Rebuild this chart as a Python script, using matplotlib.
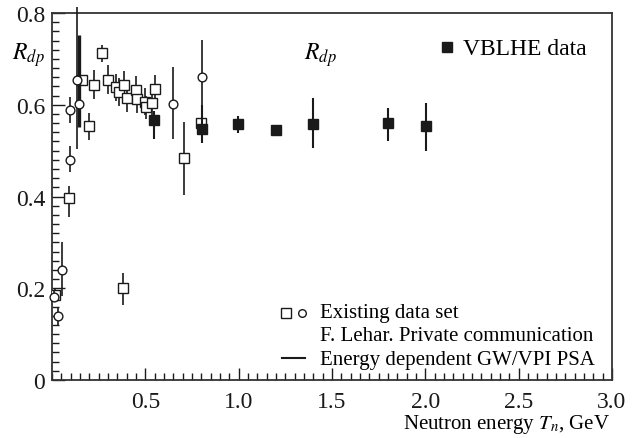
import matplotlib
matplotlib.use("Agg")
import matplotlib.pyplot as plt
from matplotlib.ticker import MultipleLocator

plt.rcParams['font.family'] = ['Liberation Serif', 'DejaVu Serif']
plt.rcParams['mathtext.fontset'] = 'stix'

# existing data set, open squares (T_n GeV, R_dp, error down, error up)
sq_x = [0.016, 0.093, 0.163, 0.197, 0.223, 0.270, 0.302, 0.343, 0.357, 0.386,
        0.404, 0.448, 0.458, 0.496, 0.503, 0.535, 0.553, 0.382, 0.709, 0.797]
sq_y = [0.185, 0.397, 0.654, 0.554, 0.644, 0.712, 0.654, 0.638, 0.628, 0.643,
        0.615, 0.632, 0.612, 0.607, 0.595, 0.604, 0.634, 0.200, 0.484, 0.561]
sq_lo = [0.015, 0.042, 0.0, 0.030, 0.031, 0.019, 0.031, 0.030, 0.030, 0.030,
         0.030, 0.030, 0.030, 0.030, 0.025, 0.030, 0.030, 0.037, 0.080, 0.0]
sq_hi = [0.015, 0.026, 0.0, 0.028, 0.031, 0.019, 0.032, 0.030, 0.030, 0.030,
         0.030, 0.030, 0.030, 0.030, 0.025, 0.030, 0.030, 0.033, 0.079, 0.0]

# existing data set, open circles
ci_x = [0.012, 0.030, 0.052, 0.096, 0.096, 0.132, 0.647, 0.804]
ci_y = [0.181, 0.140, 0.240, 0.479, 0.588, 0.654, 0.601, 0.660]
ci_lo = [0.012, 0.022, 0.056, 0.026, 0.028, 0.151, 0.076, 0.142]
ci_hi = [0.012, 0.019, 0.060, 0.031, 0.028, 0.160, 0.082, 0.081]

# circle with the thick error line
ci2_x = [0.145]
ci2_y = [0.602]
ci2_lo = [0.051]
ci2_hi = [0.150]

# VBLHE data, filled squares
vb_x = [0.548, 0.804, 0.998, 1.200, 1.400, 1.802, 2.004]
vb_y = [0.566, 0.547, 0.558, 0.545, 0.558, 0.560, 0.553]
vb_lo = [0.041, 0.031, 0.020, 0.013, 0.053, 0.039, 0.053]
vb_hi = [0.020, 0.052, 0.017, 0.011, 0.056, 0.034, 0.050]

fig = plt.figure(figsize=(6.32, 4.39), dpi=100)
ax = fig.add_axes([0.0823, 0.1321, 0.886, 0.836])

ax.errorbar(sq_x, sq_y, yerr=[sq_lo, sq_hi], fmt='s', ms=6.5, mfc='white',
            mec='#1a1a1a', mew=1.0, ecolor='#1a1a1a', elinewidth=1.2,
            capsize=0, zorder=3)
ax.errorbar(ci_x, ci_y, yerr=[ci_lo, ci_hi], fmt='o', ms=6.3, mfc='white',
            mec='#1a1a1a', mew=1.0, ecolor='#1a1a1a', elinewidth=1.2,
            capsize=0, zorder=4, clip_on=False)
ax.errorbar(ci2_x, ci2_y, yerr=[ci2_lo, ci2_hi], fmt='o', ms=6.3, mfc='white',
            mec='#1a1a1a', mew=1.0, ecolor='#1a1a1a', elinewidth=2.4,
            capsize=0, zorder=4)
ax.errorbar(vb_x, vb_y, yerr=[vb_lo, vb_hi], fmt='s', ms=7, mfc='#1a1a1a',
            mec='#1a1a1a', ecolor='#1a1a1a', elinewidth=1.5, capsize=0,
            zorder=5)

ax.set_xlim(0, 3.0)
ax.set_ylim(0, 0.8)
ax.xaxis.set_major_locator(MultipleLocator(0.5))
ax.xaxis.set_minor_locator(MultipleLocator(0.05))
ax.yaxis.set_major_locator(MultipleLocator(0.2))
ax.yaxis.set_minor_locator(MultipleLocator(0.02))
ax.set_xticks([0.5, 1.0, 1.5, 2.0, 2.5, 3.0])
ax.set_xticklabels(['0.5', '1.0', '1.5', '2.0', '2.5', '3.0'])
ax.set_yticks([0, 0.2, 0.4, 0.6, 0.8])
ax.set_yticklabels(['0', '0.2', '0.4', '0.6', '0.8'])
ax.tick_params(which='both', direction='in', top=False, right=False,
               labelsize=17, colors='#1a1a1a', width=1.0)
ax.tick_params(axis='x', which='major', length=9, pad=8)
ax.tick_params(axis='y', which='major', length=9, pad=5)
ax.tick_params(which='minor', length=5)
for s in ax.spines.values():
    s.set_linewidth(1.3)
    s.set_color('#333333')

# axis titles
ax.text(-0.013, 0.888, r'$R_{dp}$', transform=ax.transAxes, ha='right',
        va='center', fontsize=17)
fig.text(0.965, 0.034, r'Neutron energy $T_n$, GeV', ha='right',
         va='center', fontsize=15)

# labels inside the plot
ax.text(0.479, 0.888, r'$R_{dp}$', transform=ax.transAxes, ha='center',
        va='center', fontsize=17)
ax.plot([0.705], [0.907], 's', ms=7.5, color='#1a1a1a',
        transform=ax.transAxes)
ax.text(0.734, 0.902, 'VBLHE data', transform=ax.transAxes, ha='left',
        va='center', fontsize=17)

# legend
ax.plot([0.417], [0.183], 's', ms=6.5, mfc='white', mec='#1a1a1a',
        mew=1.0, transform=ax.transAxes)
ax.plot([0.446], [0.183], 'o', ms=5.5, mfc='white', mec='#1a1a1a',
        mew=1.0, transform=ax.transAxes)
ax.plot([0.411, 0.452], [0.060, 0.060], '-', lw=1.5, color='#1a1a1a',
        transform=ax.transAxes)
ax.text(0.479, 0.185, 'Existing data set', transform=ax.transAxes,
        ha='left', va='center', fontsize=15)
ax.text(0.479, 0.120, 'F. Lehar. Private communication',
        transform=ax.transAxes, ha='left', va='center', fontsize=15)
ax.text(0.479, 0.057, 'Energy dependent GW/VPI PSA', transform=ax.transAxes,
        ha='left', va='center', fontsize=15)

fig.savefig('out.png', dpi=100)
